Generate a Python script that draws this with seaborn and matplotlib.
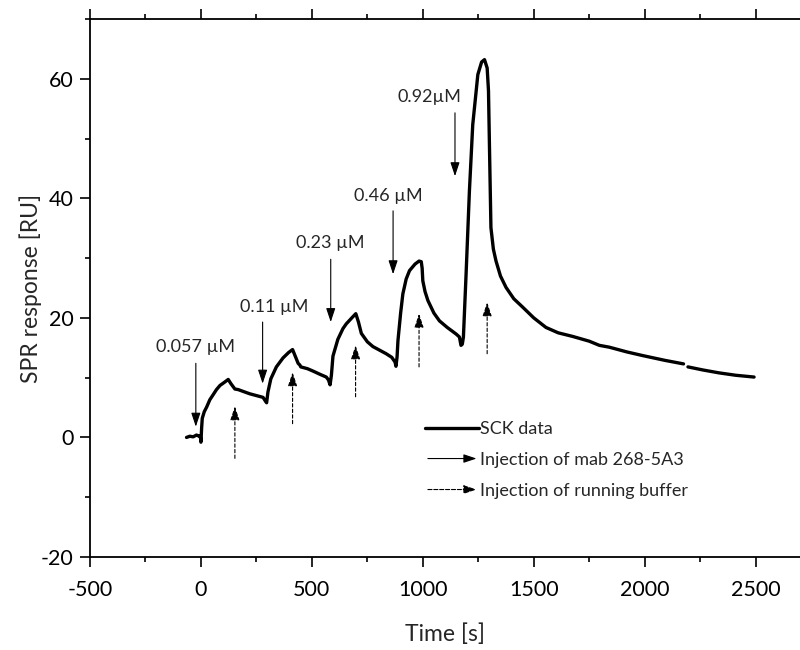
import numpy as np
import pandas as pd
import seaborn as sns
import matplotlib.pyplot as plt
from matplotlib.lines import Line2D
from matplotlib.patches import FancyArrowPatch
from matplotlib.legend_handler import HandlerBase
from matplotlib.ticker import MultipleLocator

# SCK sensorgram (time in s, response in RU)
time_a = [-65, -50, -35, -20, -8, -3, 0, 3, 6, 15, 26, 40, 56, 70, 86, 105, 123, 135, 153, 168,
          190, 220, 250, 280, 292, 296, 302, 315, 340, 370, 395, 413, 425, 438, 446, 450, 480,
          505, 540, 565, 575, 582, 588, 595, 617, 640, 655, 680, 698, 710, 723, 750, 775, 805,
          835, 860, 875, 879, 884, 888, 900, 910, 925, 940, 965, 983, 993, 997, 1000, 1010,
          1023, 1050, 1075, 1110, 1150, 1165, 1172, 1178, 1183, 1195, 1210, 1225, 1248, 1265,
          1278, 1290, 1296, 1300, 1307, 1318, 1330, 1350, 1375, 1410, 1450, 1500, 1555, 1610,
          1675, 1750, 1796, 1840, 1920, 1990, 2090, 2175]
resp_a = [0.0, 0.2, 0.1, 0.4, 0.2, 0.3, -0.8, 1.5, 3.2, 4.3, 5.1, 6.3, 7.2, 8.0, 8.7, 9.2, 9.7, 9.0,
          8.1, 8.0, 7.7, 7.3, 7.0, 6.7, 6.0, 5.8, 7.6, 9.8, 11.8, 13.3, 14.2, 14.7, 13.6, 12.4,
          12.1, 11.8, 11.5, 11.1, 10.5, 10.1, 9.6, 8.8, 10.4, 13.6, 16.4, 18.2, 19.0, 20.0, 20.7,
          19.3, 17.4, 16.0, 15.2, 14.6, 14.0, 13.4, 12.6, 11.9, 13.5, 16.2, 20.8, 24.0, 26.5,
          27.9, 29.0, 29.5, 29.4, 28.3, 26.2, 24.4, 22.9, 20.8, 19.5, 18.4, 17.3, 16.8, 15.4,
          15.6, 16.8, 27.3, 41.2, 52.3, 60.7, 62.8, 63.2, 61.8, 58.0, 49.5, 35.1, 31.5, 29.5,
          27.0, 25.1, 23.2, 21.8, 20.0, 18.4, 17.5, 16.9, 16.1, 15.4, 15.1, 14.3, 13.7, 12.9, 12.3]
# short piece after the small gap in the trace
time_b = [2195, 2260, 2335, 2410, 2493]
resp_b = [11.8, 11.3, 10.8, 10.4, 10.1]

# injections of mab 268-5A3 (solid arrows)
conc_labels = ['0.057 µM', '0.11 µM', '0.23 µM', '0.46 µM', '0.92µM']
label_t = [-23, 329, 582, 845, 1029]
label_y = [15.2, 21.8, 32.6, 40.4, 57.0]
inj_t = [-23, 278, 585, 866, 1145]
inj_from = [12.4, 19.3, 29.8, 37.9, 54.3]
inj_to = [1.8, 9.0, 19.3, 27.3, 43.7]

# injections of running buffer (dashed arrows, pointing up)
buf_t = [153, 413, 697, 983, 1290]
buf_from = [-3.5, 2.3, 6.8, 11.8, 14.0]
buf_to = [5.2, 10.9, 15.4, 20.7, 22.6]

df = pd.DataFrame({
    'Time': time_a + time_b,
    'Response': resp_a + resp_b,
    'seg': ['a'] * len(time_a) + ['b'] * len(time_b),
})

sns.set_style('ticks')
plt.rcParams['font.family'] = ['Lato', 'DejaVu Sans']
plt.rcParams['axes.unicode_minus'] = False

fig = plt.figure(figsize=(8, 6.5), dpi=100)
ax = fig.add_axes([0.1125, 0.1431, 0.8875, 0.8277])

sns.lineplot(data=df, x='Time', y='Response', units='seg', estimator=None,
             color='black', lw=2.4, ax=ax, legend=False)

head = '-|>,head_length=0.6,head_width=0.2'
for lab, lt, ly, t, y0, y1 in zip(conc_labels, label_t, label_y, inj_t, inj_from, inj_to):
    ax.text(lt, ly, lab, ha='center', va='center', fontsize=13)
    ax.annotate('', xy=(t, y1), xytext=(t, y0),
                arrowprops=dict(arrowstyle=head, color='black', lw=0.8,
                                mutation_scale=14, shrinkA=0, shrinkB=0))
for t, y0, y1 in zip(buf_t, buf_from, buf_to):
    ax.annotate('', xy=(t, y1), xytext=(t, y0),
                arrowprops=dict(arrowstyle=head, color='black', lw=0.8, linestyle=(0, (3, 2)),
                                mutation_scale=14, shrinkA=0, shrinkB=0))


class ArrowHandler(HandlerBase):
    def create_artists(self, legend, orig_handle, xdescent, ydescent, width, height,
                       fontsize, trans):
        y = height / 2 - ydescent
        a = FancyArrowPatch((-xdescent, y), (-xdescent + width, y), arrowstyle=head,
                            mutation_scale=13, lw=0.8, color='black',
                            linestyle=orig_handle.get_linestyle(), transform=trans)
        return [a]


h1 = Line2D([], [], color='black', lw=2.4)
h2 = Line2D([], [], color='black', lw=0.8, linestyle='-')
h3 = Line2D([], [], color='black', lw=0.8, linestyle=(0, (3, 2)))
ax.legend([h1, h2, h3], ['SCK data', 'Injection of mab 268-5A3', 'Injection of running buffer'],
          handler_map={h2: ArrowHandler(), h3: ArrowHandler()},
          loc='upper left', bbox_to_anchor=(0.472, 0.253), frameon=False, fontsize=13,
          handlelength=3.0, handletextpad=0.05, labelspacing=0.83, borderpad=0, borderaxespad=0)

ax.set_xlim(-500, 2700)
ax.set_ylim(-20, 70)
ax.xaxis.set_major_locator(MultipleLocator(500))
ax.xaxis.set_minor_locator(MultipleLocator(250))
ax.yaxis.set_major_locator(MultipleLocator(20))
ax.yaxis.set_minor_locator(MultipleLocator(10))
ax.set_yticks([-20, 0, 20, 40, 60])
ax.tick_params(which='both', direction='out', top=True, right=False, labeltop=False,
               width=1.2, colors='black', labelsize=15.5, pad=5)
ax.tick_params(axis='x', which='major', pad=9.5)
ax.tick_params(which='major', length=7)
ax.tick_params(which='minor', length=3.5)
for s in ['left', 'bottom', 'top']:
    ax.spines[s].set_linewidth(1.3)
    ax.spines[s].set_color('black')
ax.spines['right'].set_visible(False)

ax.set_xlabel('Time [s]', fontsize=16.5, labelpad=17)
ax.set_ylabel('SPR response [RU]', fontsize=16.5, labelpad=-1)

fig.savefig('out.png', dpi=100)
